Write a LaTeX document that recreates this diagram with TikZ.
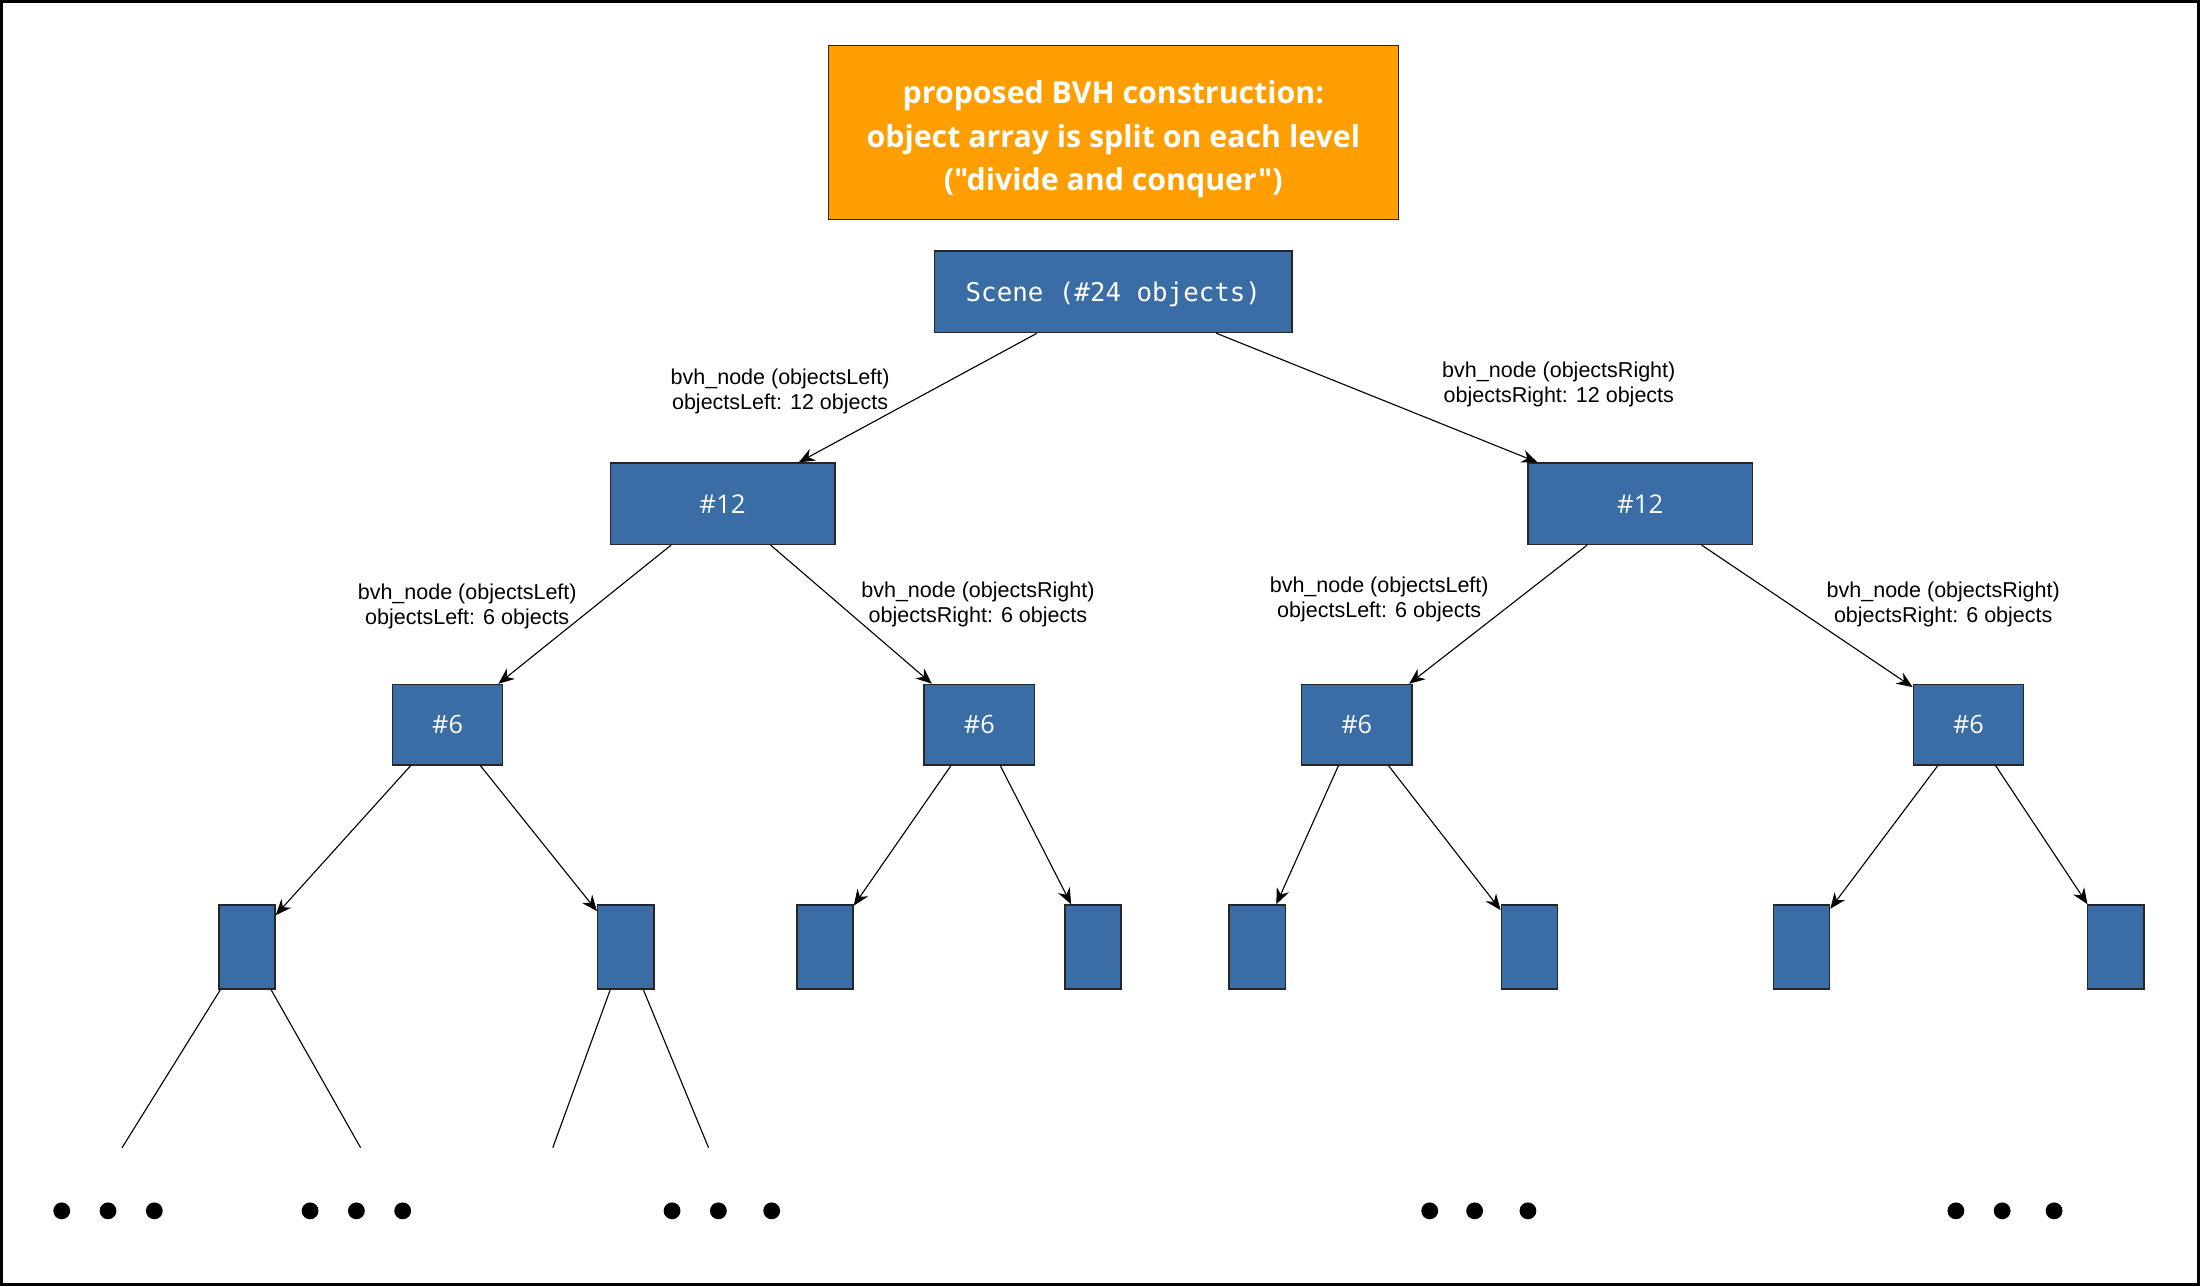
\documentclass[tikz,border=0pt]{standalone}
\usepackage{fontspec}
\setmainfont{Liberation Sans}
\setmonofont{DejaVu Sans Mono}
\newfontfamily\headfont{Open Sans}
\usepackage{tikz}
\usetikzlibrary{arrows.meta}
\definecolor{bvhblue}{HTML}{3A6DA5}
\definecolor{bvhorange}{HTML}{FF9E00}
\tikzstyle{bvhbox}=[rectangle, draw=black!85, fill=bvhblue, text=white, inner sep=0pt, line width=0.75pt]
\tikzstyle{edgetext}=[align=center, inner sep=0pt, font=\fontsize{11.5}{13.5}\selectfont]
\tikzset{>={Stealth[length=8.5pt,width=7pt]}}

\begin{document}
\begin{tikzpicture}[x=0.75pt, y=0.75pt]
        \tikzstyle{leaf}=[bvhbox, minimum width=30pt, minimum height=45pt]
        \tikzstyle{bullet}=[circle, fill=black, inner sep=0pt, minimum size=9pt]

        \useasboundingbox (0,0) rectangle (1568,-916.6);
        \draw [line width=1.5pt] (1,-1) rectangle (1567,-915.6);

        % Title
        \node at (793.5, -94) [rectangle, draw=black!85, fill=bvhorange, text=white,
          minimum width=305pt, minimum height=93pt, inner sep=0pt,
          font=\headfont\bfseries\fontsize{16.2}{23.3}\selectfont] (title)
          {\raisebox{-3.5pt}[\height][\depth]{\begin{tabular}{@{}c@{}}proposed BVH construction:\\object array is split on each level\\("divide and conquer")\end{tabular}}};

        % Root
        \node at (793.5, -208) [bvhbox, minimum width=191pt, minimum height=43.5pt,
          font=\ttfamily\fontsize{13.8}{16}\selectfont] (scene)
          {\raisebox{-1.2pt}[\height][\depth]{Scene (\#24 objects)}};

        % Level 1
        \node at (515, -359) [bvhbox, minimum width=120pt, minimum height=43.5pt,
          font=\headfont\fontsize{13.8}{15}\selectfont] (twelve_1) {\#12};
        \node at (1169, -359) [bvhbox, minimum width=120pt, minimum height=43.5pt,
          font=\headfont\fontsize{13.8}{15}\selectfont] (twelve_2) {\#12};

        % Level 2
        \foreach \x [count=\i] in {319,698,967,1403}
          \node at (\x, -516.5) [bvhbox, minimum width=59pt, minimum height=43pt,
            font=\headfont\fontsize{13.5}{15}\selectfont] (six_\i) {\#6};

        % Level 3
        \foreach \x [count=\i] in {176,446,588,779,896,1090,1284,1508}
          \node at (\x, -675) [leaf] (leaf_\i) {};

        % Open ends
        \coordinate (end_1) at (87, -818);
        \coordinate (end_2) at (257, -818);
        \coordinate (end_3) at (394, -818);
        \coordinate (end_4) at (505, -818);

        % Dots
        \foreach \x [count=\i] in {44,77,110,221,254,287,479,512,550,1019,1051,1089,1394,1427,1464}
          \node at (\x, -863) [bullet] (dot_\i) {};

        % Arrows
        \draw [->, line width=0.6pt] (scene) to (twelve_1);
        \draw [->, line width=0.6pt] (scene) to (twelve_2);
        \foreach \i/\j in {1/1,1/2,2/3,2/4}
          \draw [->, line width=0.6pt] (twelve_\i) to (six_\j);
        \foreach \i/\j in {1/1,1/2,2/3,2/4,3/5,3/6,4/7,4/8}
          \draw [->, line width=0.6pt] (six_\i) to (leaf_\j);
        \foreach \i/\j in {1/1,1/2,2/3,2/4}
          \draw [line width=0.6pt] (leaf_\i) to (end_\j);

        % Text
        \node at (556, -279) [edgetext] (text_sl) {bvh\_node (objectsLeft)\\objectsLeft: 12 objects};
        \node at (1111, -274) [edgetext] (text_sr) {bvh\_node (objectsRight)\\objectsRight: 12 objects};
        \node at (333, -432) [edgetext] (text_ll) {bvh\_node (objectsLeft)\\objectsLeft: 6 objects};
        \node at (697, -431) [edgetext] (text_lr) {bvh\_node (objectsRight)\\objectsRight: 6 objects};
        \node at (983, -427) [edgetext] (text_rl) {bvh\_node (objectsLeft)\\objectsLeft: 6 objects};
        \node at (1385, -431) [edgetext] (text_rr) {bvh\_node (objectsRight)\\objectsRight: 6 objects};
\end{tikzpicture}
\end{document}
